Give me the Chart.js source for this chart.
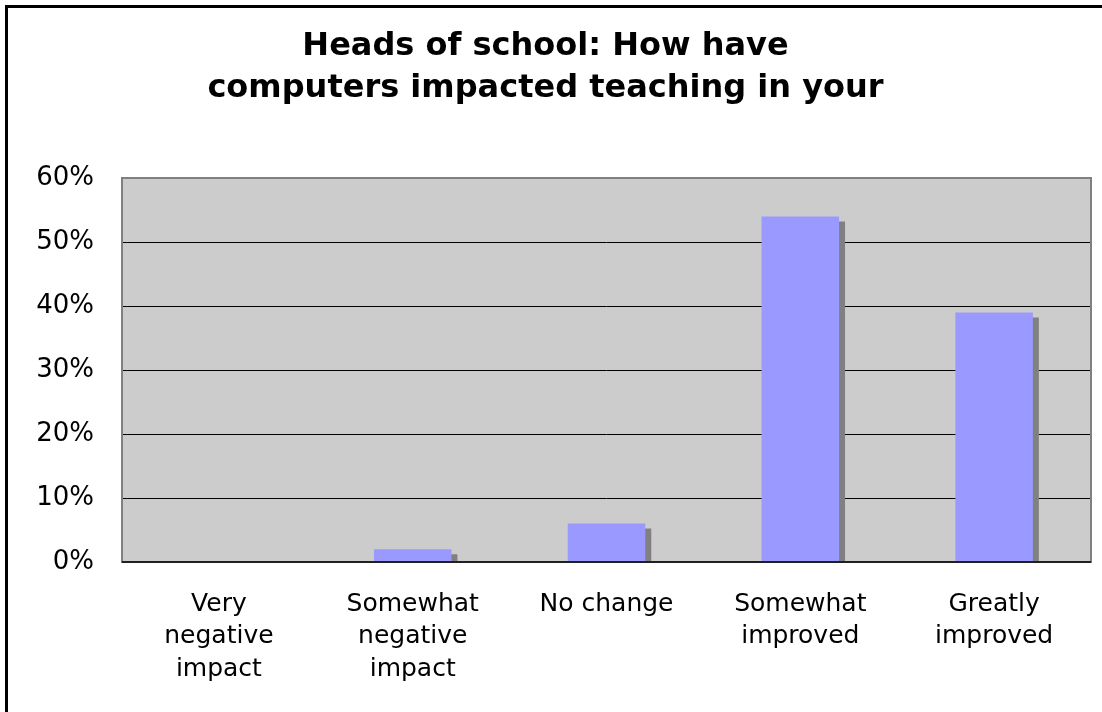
<!DOCTYPE html>
<html>
<head>
<meta charset="utf-8">
<script src="https://cdn.jsdelivr.net/npm/chart.js@4"></script>
<style>
  html, body { margin: 0; padding: 0; background: #fff; overflow: hidden; }
  #wrap { position: relative; width: 1102px; height: 712px; }
  #chartCanvas { position: absolute; left: 0; top: 0; }
  #frame {
    position: absolute; left: 5px; top: 5px;
    width: 1110px; height: 720px;
    border: 3px solid #000; pointer-events: none;
  }
</style>
</head>
<body>
<div id="wrap">
  <canvas id="chartCanvas" width="1102" height="712"></canvas>
  <div id="frame"></div>
</div>
<script>
const titleLines = ["Heads of school: How have", "computers impacted teaching in your"];
const categories = [
  ["Very", "negative", "impact"],
  ["Somewhat", "negative", "impact"],
  "No change",
  ["Somewhat", "improved"],
  ["Greatly", "improved"]
];
const shares = [0, 0.02, 0.06, 0.54, 0.39];
const yTicks = [0, 0.1, 0.2, 0.3, 0.4, 0.5, 0.6];

const fontFamily = 'Verdana, "DejaVu Sans", sans-serif';

// grey plot area, outline drawn over it
const plotArea = {
  id: "plotArea",
  beforeDraw(chart) {
    const a = chart.chartArea;
    const ctx = chart.ctx;
    ctx.save();
    ctx.fillStyle = "#cccccc";
    ctx.fillRect(a.left, a.top, a.right - a.left, a.bottom - a.top);
    ctx.restore();
  },
  afterDatasetsDraw(chart) {
    const a = chart.chartArea;
    const ctx = chart.ctx;
    ctx.save();
    ctx.strokeStyle = "#808080";
    ctx.lineWidth = 2;
    ctx.strokeRect(a.left, a.top, a.right - a.left, a.bottom - a.top);
    ctx.strokeStyle = "#000";
    ctx.lineWidth = 1.5;
    ctx.beginPath();
    ctx.moveTo(a.left, a.bottom);
    ctx.lineTo(a.right, a.bottom);
    ctx.stroke();
    ctx.restore();
  }
};

// hard drop shadow under each bar
const barShadow = {
  id: "barShadow",
  beforeDatasetDraw(chart) {
    const ctx = chart.ctx;
    ctx.save();
    ctx.shadowColor = "#808080";
    ctx.shadowBlur = 0;
    ctx.shadowOffsetX = 6;
    ctx.shadowOffsetY = 5;
  },
  afterDatasetDraw(chart) {
    chart.ctx.restore();
  }
};

const ctx = document.getElementById("chartCanvas").getContext("2d");

new Chart(ctx, {
  type: "bar",
  data: {
    labels: categories,
    datasets: [
      {
        data: shares,
        backgroundColor: "#9999ff",
        borderWidth: 0,
        barPercentage: 1,
        categoryPercentage: 0.4,
        clip: 0
      }
    ]
  },
  options: {
    responsive: false,
    animation: false,
    layout: { padding: { left: 0, right: 11, top: 0, bottom: 0 } },
    plugins: {
      legend: { display: false },
      tooltip: { enabled: false },
      title: {
        display: true,
        text: titleLines,
        color: "#000",
        font: { family: fontFamily, size: 32, weight: "bold", lineHeight: 1.3125 },
        padding: { top: 26, bottom: 68 }
      }
    },
    scales: {
      x: {
        grid: { display: false, drawTicks: false },
        border: { display: false },
        ticks: {
          color: "#000",
          padding: 26,
          maxRotation: 0,
          autoSkip: false,
          font: { family: fontFamily, size: 25, lineHeight: 1.3 }
        },
        afterFit(scale) { scale.height = 150; }
      },
      y: {
        min: 0,
        max: 0.6,
        afterBuildTicks(scale) {
          scale.ticks = yTicks.map((v) => ({ value: v }));
        },
        grid: { color: "#000", lineWidth: 1, drawTicks: false },
        border: { display: false },
        ticks: {
          color: "#000",
          padding: 28,
          font: { family: fontFamily, size: 26 },
          callback: (v) => Math.round(v * 100) + "%"
        },
        afterFit(scale) { scale.width = 122; }
      }
    }
  },
  plugins: [plotArea, barShadow]
});
</script>
</body>
</html>
